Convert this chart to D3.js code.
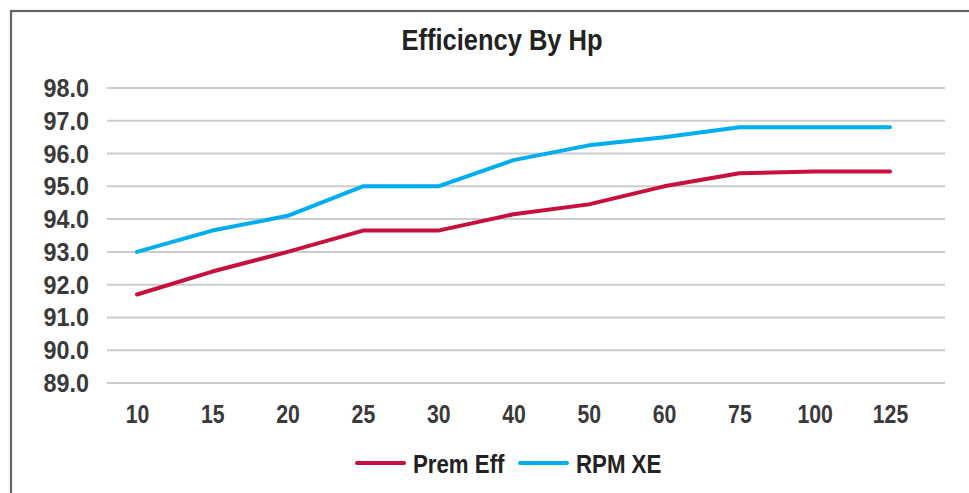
<!DOCTYPE html>
<html>
<head>
<meta charset="utf-8">
<script src="https://cdn.jsdelivr.net/npm/d3@7"></script>
<style>
  html, body { margin: 0; padding: 0; background: #fff; }
  svg { display: block; }
  text { font-family: "Liberation Sans", Arial, sans-serif; font-weight: bold; }
</style>
</head>
<body>
<script>
const categories = ["10", "15", "20", "25", "30", "40", "50", "60", "75", "100", "125"];
const premEff = [91.7, 92.4, 93.0, 93.65, 93.65, 94.15, 94.45, 95.0, 95.4, 95.45, 95.45];
const rpmXE   = [93.0, 93.65, 94.1, 95.0, 95.0, 95.8, 96.25, 96.5, 96.8, 96.8, 96.8];
const yTicks  = [89, 90, 91, 92, 93, 94, 95, 96, 97, 98];
const seriesNames = ["Prem Eff", "RPM XE"];
const seriesColors = ["#C8103E", "#00AEEF"];

const W = 969, H = 493;
const svg = d3.select("body").append("svg").attr("width", W).attr("height", H);

// frame
svg.append("rect").attr("x", 11).attr("y", 11).attr("width", 1000).attr("height", 1000)
  .attr("fill", "none").attr("stroke", "#666").attr("stroke-width", 2.2);

// title (condensed)
svg.append("g").attr("transform", "translate(502,50)")
  .append("text").attr("transform", "scale(0.85,1)").attr("text-anchor", "middle")
  .attr("font-size", 30).attr("fill", "#222").text("Efficiency By Hp");

const x = d3.scalePoint().domain(categories).range([137, 890]);
const y = d3.scaleLinear().domain([89, 98]).range([383, 88]);

// gridlines
svg.append("g").selectAll("line").data(yTicks).join("line")
  .attr("x1", 107).attr("x2", 945)
  .attr("y1", d => y(d)).attr("y2", d => y(d))
  .attr("stroke", "#cccccc").attr("stroke-width", 2);

// y axis labels
const yAxis = d3.axisLeft(y).tickValues(yTicks).tickFormat(d3.format(".1f")).tickSize(0).tickPadding(0);
const gy = svg.append("g").attr("transform", "translate(89,0)").call(yAxis);
gy.select(".domain").remove();
gy.selectAll("text").attr("font-size", 26.5).attr("fill", "#3a3a3a")
  .attr("transform", "scale(0.88,1)")
  .attr("font-family", "'Liberation Sans', Arial, sans-serif").attr("font-weight", "bold");

// x axis labels
const xAxis = d3.axisBottom(x).tickSize(0).tickPadding(0);
const gx = svg.append("g").attr("transform", "translate(0,405)").call(xAxis);
gx.select(".domain").remove();
gx.selectAll("text").attr("font-size", 25).attr("fill", "#3a3a3a").attr("dy", "0.72em")
  .attr("transform", "scale(0.85,1)")
  .attr("font-family", "'Liberation Sans', Arial, sans-serif").attr("font-weight", "bold");

// lines
const line = d3.line().x((d, i) => x(categories[i])).y(d => y(d));
[premEff, rpmXE].forEach((vals, k) => {
  svg.append("path").datum(vals).attr("d", line)
    .attr("fill", "none").attr("stroke", seriesColors[k]).attr("stroke-width", 4)
    .attr("stroke-linecap", "round").attr("stroke-linejoin", "round");
});

// legend
const legendX = [357, 520];
seriesNames.forEach((name, k) => {
  const g = svg.append("g").attr("transform", `translate(${legendX[k]},463)`);
  g.append("line").attr("x1", 0).attr("x2", 47).attr("y1", 0).attr("y2", 0)
    .attr("stroke", seriesColors[k]).attr("stroke-width", 4).attr("stroke-linecap", "round");
  g.append("g").attr("transform", "translate(56,10)")
    .append("text").attr("transform", "scale(0.89,1)")
    .attr("font-size", 25).attr("fill", "#222").text(name);
});
</script>
</body>
</html>
